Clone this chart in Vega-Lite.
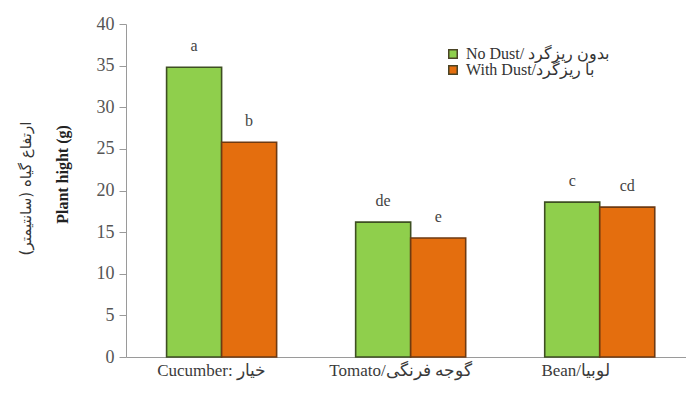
{
  "$schema": "https://vega.github.io/schema/vega-lite/v6.json",
  "width": 560,
  "height": 333,
  "autosize": {"type": "none"},
  "padding": {"left": 126, "top": 24, "right": 0, "bottom": 39},
  "background": "white",
  "config": {
    "view": {"stroke": null},
    "font": "Liberation Serif"
  },
  "data": {
    "values": [
      {"crop": "Cucumber: خیار", "treatment": "No Dust/ بدون ریزگرد", "height": 34.8, "letter": "a"},
      {"crop": "Cucumber: خیار", "treatment": "With Dust/با ریزگرد", "height": 25.8, "letter": "b"},
      {"crop": "Tomato/گوجه فرنگی", "treatment": "No Dust/ بدون ریزگرد", "height": 16.2, "letter": "de"},
      {"crop": "Tomato/گوجه فرنگی", "treatment": "With Dust/با ریزگرد", "height": 14.3, "letter": "e"},
      {"crop": "Bean/لوبیا", "treatment": "No Dust/ بدون ریزگرد", "height": 18.6, "letter": "c"},
      {"crop": "Bean/لوبیا", "treatment": "With Dust/با ریزگرد", "height": 18.0, "letter": "cd"}
    ]
  },
  "encoding": {
    "x": {
      "field": "crop",
      "type": "nominal",
      "sort": ["Cucumber: خیار", "Tomato/گوجه فرنگی", "Bean/لوبیا"],
      "scale": {"paddingInner": 0.418, "paddingOuter": 0.19, "align": 0.565},
      "axis": {
        "title": null,
        "labelAngle": 0,
        "ticks": false,
        "domainColor": "#9a9a9a",
        "labelFontSize": 17,
        "labelColor": "#3a3a3a",
        "labelPadding": 5,
        "labelOffset": {
          "condition": {"test": "datum.value === 'Bean/لوبیا'", "value": -24},
          "value": -10
        }
      }
    },
    "xOffset": {
      "field": "treatment",
      "type": "nominal",
      "sort": ["No Dust/ بدون ریزگرد", "With Dust/با ریزگرد"],
      "scale": {"paddingInner": 0, "paddingOuter": 0}
    }
  },
  "layer": [
    {
      "mark": {"type": "bar", "strokeWidth": 1.6},
      "encoding": {
        "y": {
          "field": "height",
          "type": "quantitative",
          "scale": {"domain": [0, 40]},
          "axis": {
            "values": [0, 5, 10, 15, 20, 25, 30, 35, 40],
            "grid": false,
            "tickSize": 7,
            "tickColor": "#9a9a9a",
            "domainColor": "#9a9a9a",
            "labelFontSize": 18,
            "labelColor": "#555555",
            "labelPadding": 5,
            "title": "Plant hight (g)",
            "titleFont": "Liberation Serif",
            "titleFontSize": 16,
            "titleFontWeight": "bold",
            "titleColor": "#222222",
            "titleBaseline": "middle",
            "titleX": -64,
            "titleY": 150
          }
        },
        "color": {
          "field": "treatment",
          "type": "nominal",
          "sort": ["No Dust/ بدون ریزگرد", "With Dust/با ریزگرد"],
          "scale": {"range": ["#8fcf4c", "#e46e0e"]},
          "legend": {
            "title": null,
            "orient": "none",
            "legendX": 319,
            "legendY": 22,
            "symbolType": "square",
            "symbolSize": 72,
            "symbolStrokeColor": "#4a4426",
            "symbolStrokeWidth": 1.5,
            "labelFontSize": 16,
            "labelColor": "#333333",
            "labelFont": "Liberation Serif",
            "rowPadding": 0,
            "labelOffset": 5
          }
        },
        "stroke": {
          "field": "treatment",
          "type": "nominal",
          "sort": ["No Dust/ بدون ریزگرد", "With Dust/با ریزگرد"],
          "scale": {"range": ["#3e4f22", "#6e3a12"]},
          "legend": null
        }
      }
    },
    {
      "mark": {"type": "text", "baseline": "middle", "dy": -21, "fontSize": 16, "color": "#444444"},
      "encoding": {
        "y": {
          "field": "height",
          "type": "quantitative",
          "scale": {"domain": [0, 40]},
          "axis": {
            "orient": "left",
            "labels": false,
            "ticks": false,
            "domain": false,
            "grid": false,
            "title": "ارتفاع گیاه (سانتیمتر)",
            "titleFont": "DejaVu Sans",
            "titleFontSize": 15,
            "titleFontWeight": "normal",
            "titleColor": "#333333",
            "titleBaseline": "middle",
            "titleX": -101,
            "titleY": 164
          }
        },
        "text": {"field": "letter"}
      }
    }
  ],
  "resolve": {"scale": {"y": "independent"}}
}
